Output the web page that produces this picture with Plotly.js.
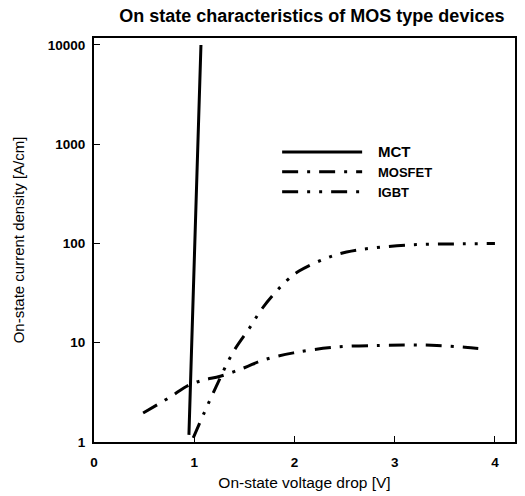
<!DOCTYPE html>
<html>
<head>
<meta charset="utf-8">
<script src="https://cdn.plot.ly/plotly-3.0.1.min.js"></script>
<style>
  html, body { margin: 0; padding: 0; background: #fff; }
  #chart { width: 525px; height: 496px; }
</style>
</head>
<body>
<div id="chart"></div>
<script>
// MCT (solid)
const mctVoltage = [0.947, 0.986, 1.019, 1.067];
const mctCurrent = [1.18, 27, 274, 10000];

// MOSFET (dash-dot)
const mosfetVoltage = [0.49, 0.75, 0.947, 1.09, 1.26, 1.5, 1.69, 1.99, 2.42, 2.85, 3.15, 3.42, 3.7, 3.9];
const mosfetCurrent = [1.96, 2.8, 3.75, 4.2, 4.6, 5.6, 6.7, 7.9, 9.05, 9.4, 9.5, 9.4, 9.0, 8.65];

// IGBT (dash-dot-dot)
const igbtVoltage = [0.99, 1.2, 1.39, 1.55, 1.69, 1.92, 2.05, 2.3, 2.52, 2.78, 3.18, 3.6, 4.0];
const igbtCurrent = [1.1, 3.3, 8.1, 14, 23, 42, 53, 70, 82, 90, 97, 99, 100];

const yTickVals = [1, 10, 100, 1000, 10000];
const yTickText = ['1', '10', '100', '1000', '10000'];
const xTickVals = [0, 1, 2, 3, 4];
const xTickText = ['0', '1', '2', '3', '4'];

const traces = [
  {
    x: mctVoltage, y: mctCurrent, type: 'scatter', mode: 'lines',
    name: '&nbsp;&nbsp;&nbsp;<span style="font-size:15px">MCT</span>',
    line: { color: '#000', width: 3, dash: 'solid' }
  },
  {
    x: mosfetVoltage, y: mosfetCurrent, type: 'scatter', mode: 'lines',
    name: '&nbsp;&nbsp;&nbsp;MOSFET', line: { color: '#000', width: 3, dash: '16px,9px,3px,9px', shape: 'spline' }
  },
  {
    x: igbtVoltage, y: igbtCurrent, type: 'scatter', mode: 'lines',
    name: '&nbsp;&nbsp;&nbsp;IGBT', line: { color: '#000', width: 3, dash: '16px,9px,3px,9px,3px,9px', shape: 'spline' }
  }
];

const layout = {
  width: 525, height: 496,
  margin: { l: 94, r: 10, t: 38, b: 54 },
  paper_bgcolor: '#fff', plot_bgcolor: '#fff',
  font: { family: 'Liberation Sans, Arial, sans-serif', color: '#000' },
  title: {
    text: '<b>On state characteristics of MOS type devices</b>',
    font: { size: 18, color: '#000' },
    x: 0.594, xref: 'container', xanchor: 'center',
    y: 0.969, yref: 'container', yanchor: 'middle'
  },
  showlegend: true,
  legend: {
    x: 0.435, y: 0.755, xanchor: 'left', yanchor: 'top',
    bgcolor: 'rgba(0,0,0,0)', borderwidth: 0,
    font: { size: 13, weight: 'bold', color: '#000' },
    itemwidth: 80, tracegroupgap: 0
  },
  xaxis: {
    range: [0, 4.2], showgrid: false, zeroline: false,
    showline: true, linecolor: '#000', linewidth: 2, mirror: true,
    ticks: 'inside', ticklen: 6, tickcolor: '#000', tickwidth: 1,
    tickvals: xTickVals, ticktext: xTickText,
    tickfont: { size: 13.5, weight: 'bold' },
    ticklabelstandoff: 7,
    title: { text: 'On-state voltage drop [V]', font: { size: 15.5 }, standoff: 8 }
  },
  yaxis: {
    type: 'log', range: [0, 4.07], showgrid: false, zeroline: false,
    showline: true, linecolor: '#000', linewidth: 2, mirror: true,
    ticks: 'inside', ticklen: 6, tickcolor: '#000', tickwidth: 1,
    tickvals: yTickVals, ticktext: yTickText,
    tickfont: { size: 13.5, weight: 'bold' },
    ticklabelstandoff: 4,
    title: { text: 'On-state current density [A/cm]', font: { size: 15 }, standoff: 20 }
  }
};

Plotly.newPlot('chart', traces, layout, { displayModeBar: false, staticPlot: true });
</script>
</body>
</html>
